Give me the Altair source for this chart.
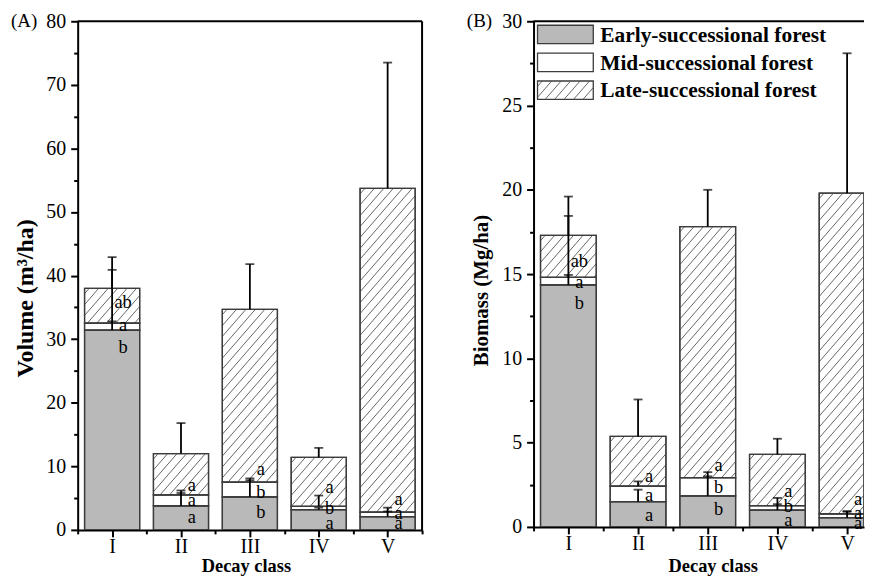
import altair as alt
import pandas as pd

classes = ["I", "II", "III", "IV", "V"]
series = ["Early-successional forest", "Mid-successional forest", "Late-successional forest"]

# Panel A: volume (m3/ha), segment means and SDs
vol_early = [31.4, 3.8, 5.2, 3.2, 2.1]
vol_mid = [1.1, 1.7, 2.3, 0.5, 0.7]
vol_late = [5.5, 6.5, 27.2, 7.7, 50.9]
vol_early_sd = [9.5, 2.4, 2.9, 0.3, 0.8]
vol_mid_sd = [0.3, 0.3, 0.3, 1.7, 0.7]
vol_late_sd = [4.9, 4.8, 7.1, 1.5, 19.8]
vol_let_early = ["b", "a", "b", "a", "a"]
vol_let_mid = ["a", "a", "b", "b", "a"]
vol_let_late = ["ab", "a", "a", "a", "a"]
vol_let_y_early = [28.7, 2.0, 2.8, 1.1, 1.1]
vol_let_y_mid = [32.3, 4.7, 5.9, 3.4, 2.6]
vol_let_y_late = [35.9, 7.1, 9.5, 6.7, 4.8]

# Panel B: biomass (Mg/ha)
bio_early = [14.36, 1.50, 1.84, 1.00, 0.55]
bio_mid = [0.44, 0.92, 1.09, 0.26, 0.23]
bio_late = [2.50, 2.95, 14.89, 3.04, 19.02]
bio_early_sd = [4.09, 0.71, 1.41, 0.72, 0.39]
bio_mid_sd = [0.15, 0.28, 0.07, 0.09, 0.12]
bio_late_sd = [2.30, 2.19, 2.18, 0.93, 8.30]
bio_let_early = ["b", "a", "b", "a", "a"]
bio_let_mid = ["a", "a", "b", "b", "a"]
bio_let_late = ["ab", "a", "a", "a", "a"]
bio_let_y_early = [13.3, 0.72, 1.04, 0.39, 0.25]
bio_let_y_mid = [14.55, 1.92, 2.36, 1.23, 0.84]
bio_let_y_late = [15.8, 3.03, 3.65, 2.15, 1.66]

FONT = "Liberation Serif"
GRAY = "#b9b9b9"
EDGE = "#3c3c3c"
HATCH = "#555555"
HATCH_SPACING = 9.5
HATCH_SLOPE = 1.15


def build_table(means, sds, letters, letter_y):
    rows = []
    for i, cls in enumerate(classes):
        bottom = 0.0
        for s, name in enumerate(series):
            v = means[s][i]
            top = bottom + v
            rows.append(dict(cls=cls, pos=i + 1, x0=i + 1 - 0.4, x1=i + 1 + 0.4,
                             series=name, value=v, bottom=bottom, top=top,
                             err=top + sds[s][i], letter=letters[s][i], ly=letter_y[s][i]))
            bottom = top
    return pd.DataFrame(rows)


def hatch_segments(bw, bh):
    """diagonal lines inside a bw x bh pixel box (v upward)"""
    segs = []
    run = bh / HATCH_SLOPE
    a = -run + HATCH_SPACING * 0.5
    while a < bw:
        us = max(0.0, a)
        ue = min(bw, a + run)
        if ue - us > 0.8:
            segs.append((us, HATCH_SLOPE * (us - a), ue, HATCH_SLOPE * (ue - a)))
        a += HATCH_SPACING
    return segs


def hatch_table(df, kx, ky):
    rows = []
    for _, r in df[df.series == series[2]].iterrows():
        bw = (r.x1v - r.x0) * kx
        bh = (r.top - r.bottom) * ky
        for us, vs, ue, ve in hatch_segments(bw, bh):
            rows.append(dict(x=r.x0 + us / kx, x2=r.x0 + ue / kx,
                             y=r.bottom + vs / ky, y2=r.bottom + ve / ky))
    return pd.DataFrame(rows)


def panel(tag, df, ymax, ymajor, yminor, W, H, step, ytitle, ytitle_size, ytitle_pad,
          ytitle_y, xtitle_x, xtitle_y, right_border=True, legend=False):
    xmax = 0.5 + W / step
    df = df.assign(x1v=df.x1.clip(upper=xmax))
    kx = step
    ky = H / ymax
    xscale = alt.Scale(domain=[0.5, xmax], nice=False, zero=False)
    yscale = alt.Scale(domain=[0, ymax], nice=False)
    xvals = [v / 2 for v in range(1, 12) if v / 2 <= xmax + 1e-9]
    roman = "[" + ",".join("'%s'" % c for c in classes) + "]"
    xaxis = alt.Axis(title="Decay class", values=xvals,
                     labelExpr="datum.value % 1 == 0 ? " + roman + "[datum.value - 1] : ''",
                     tickSize={"condition": {"test": "datum.value % 1 == 0", "value": 7}, "value": 4},
                     labelOverlap=False, labelFlush=False, labelPadding=0,
                     titleX=xtitle_x, titleY=xtitle_y, titleBaseline="alphabetic",
                     titleFontSize=18.5)
    nmin = int(round(ymax / yminor))
    yvals = [round(k * yminor, 3) for k in range(nmin + 1)]
    yaxis = alt.Axis(title=ytitle, values=yvals,
                     labelExpr="datum.value %% %s == 0 ? datum.label : ''" % ymajor,
                     tickSize={"condition": {"test": "datum.value %% %s == 0" % ymajor, "value": 7}, "value": 4},
                     labelOverlap=False, labelFlush=False, labelPadding=5,
                     titleY=ytitle_y, titlePadding=ytitle_pad, titleFontSize=ytitle_size)

    def X(f):
        return alt.X(f + ":Q", scale=xscale, axis=xaxis)

    def Y(f):
        return alt.Y(f + ":Q", scale=yscale, axis=yaxis)

    bars = alt.Chart(df).mark_bar(stroke=EDGE, strokeWidth=1.3, clip=True).encode(
        x=X("x0"), x2="x1v:Q", y=Y("bottom"), y2="top:Q",
        fill=alt.Fill("series:N", scale=alt.Scale(domain=series, range=[GRAY, "#ffffff", "#ffffff"]),
                      legend=None))
    hatch = alt.Chart(hatch_table(df, kx, ky)).mark_rule(color=HATCH, strokeWidth=0.9, clip=True).encode(
        x=X("x"), x2="x2:Q", y=Y("y"), y2="y2:Q")
    outline = alt.Chart(df).mark_bar(fillOpacity=0, stroke=EDGE, strokeWidth=1.3, clip=True).encode(
        x=X("x0"), x2="x1v:Q", y=Y("bottom"), y2="top:Q")
    errline = alt.Chart(df).mark_rule(color="black", strokeWidth=1.8).encode(
        x=X("pos"), y=Y("top"), y2="err:Q")
    errcap = alt.Chart(df).mark_tick(color="black", orient="horizontal", size=9, thickness=1.8).encode(
        x=X("pos"), y=Y("err"))
    letters = alt.Chart(df).mark_text(font=FONT, fontSize=18.5, dx=11, baseline="middle",
                                      color="black").encode(x=X("pos"), y=Y("ly"), text="letter:N")
    one = pd.DataFrame({"t": [tag]})
    tag_text = alt.Chart(one).mark_text(font=FONT, fontSize=19, align="left", baseline="middle",
                                        color="black").encode(x=alt.value(-67), y=alt.value(0), text="t:N")
    top_rule = alt.Chart(one).mark_rule(color="black", strokeWidth=2).encode(
        x=alt.value(0), x2=alt.value(W), y=alt.value(0))
    layers = [bars, hatch, outline, errline, errcap, letters, tag_text, top_rule]
    if right_border:
        layers.append(alt.Chart(one).mark_rule(color="black", strokeWidth=2).encode(
            x=alt.value(W), y=alt.value(0), y2=alt.value(H)))
    if legend:
        fills = [GRAY, "#ffffff", "#ffffff"]
        for i, name in enumerate(series):
            y0 = 4 + 28 * i
            y1 = y0 + 18.5
            lone = pd.DataFrame({"t": [name]})
            layers.append(alt.Chart(lone).mark_rect(fill=fills[i], stroke=EDGE, strokeWidth=1.3).encode(
                x=alt.value(4), x2=alt.value(60), y=alt.value(y0), y2=alt.value(y1)))
            if i == 2:
                for us, vs, ue, ve in hatch_segments(56, 18.5):
                    layers.append(alt.Chart(lone).mark_rule(color=HATCH, strokeWidth=0.9).encode(
                        x=alt.value(4 + us), x2=alt.value(4 + ue),
                        y=alt.value(y1 - vs), y2=alt.value(y1 - ve)))
            layers.append(alt.Chart(lone).mark_text(font=FONT, fontSize=21.5, fontWeight="bold",
                                                    align="left", baseline="alphabetic",
                                                    color="black").encode(
                x=alt.value(67), y=alt.value(21 + 27.5 * i), text="t:N"))
    return alt.layer(*layers).properties(width=W, height=H)


vol_df = build_table([vol_early, vol_mid, vol_late], [vol_early_sd, vol_mid_sd, vol_late_sd],
                     [vol_let_early, vol_let_mid, vol_let_late],
                     [vol_let_y_early, vol_let_y_mid, vol_let_y_late])
bio_df = build_table([bio_early, bio_mid, bio_late], [bio_early_sd, bio_mid_sd, bio_late_sd],
                     [bio_let_early, bio_let_mid, bio_let_late],
                     [bio_let_y_early, bio_let_y_mid, bio_let_y_late])

pA = panel("(A)", vol_df, 80, 10, 5, 346, 511, 346 / 5, "Volume (m³/ha)", 24, 8, 278, 169, 42,
           right_border=True)
pB = panel("(B)", bio_df, 30, 5, 2.5, 332, 508, 70, "Biomass (Mg/ha)", 21, 10, 270, 180, 45,
           right_border=False, legend=True)

chart = alt.hconcat(pA, pB, spacing=42).properties(
    padding={"left": 2, "top": 1, "right": 0, "bottom": 0}
).configure_view(stroke="transparent").configure_axis(
    domainColor="black", domainWidth=2, tickColor="black", tickWidth=2,
    labelFont=FONT, labelFontSize=20, labelColor="black",
    titleFont=FONT, titleFontWeight="bold", titleColor="black", grid=False
)

chart.save("out.html", embed_options={"renderer": "svg", "actions": False})
